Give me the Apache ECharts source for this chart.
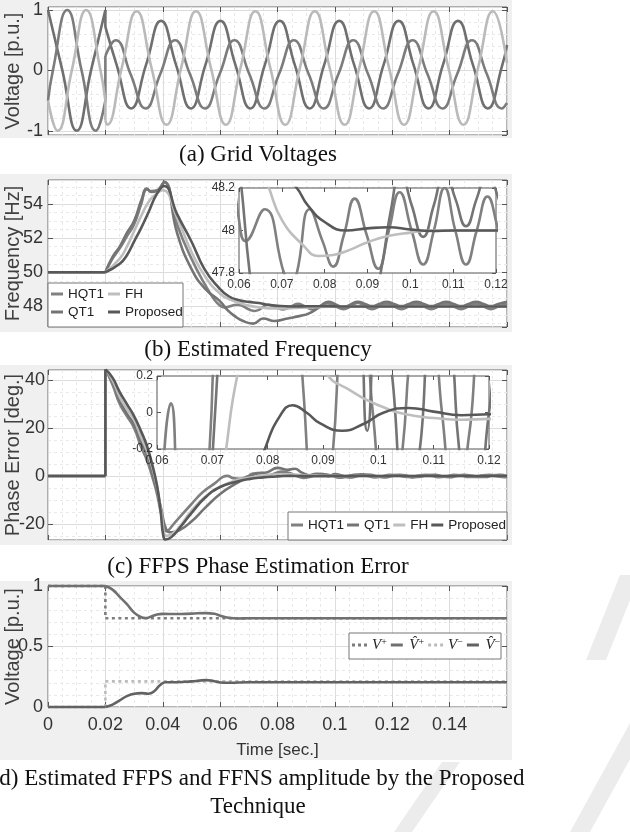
<!DOCTYPE html>
<html><head><meta charset="utf-8">
<script src="https://cdn.jsdelivr.net/npm/echarts@6/dist/echarts.min.js"></script>
<style>html,body{margin:0;padding:0;background:#fff}#c{width:630px;height:832px}</style>
</head><body><div id="c"></div>
<script>
// ---------------- data ----------------
const EVENT_T = 0.02;
// (a) grid voltages [t, p.u.]
const phaseA = [[0,1],[0.005,0],[0.01,-1],[0.015,0],[0.02,1],[0.02,0.72],[0.0239,0.095],[0.029,-0.63],[0.0342,0.095],[0.0394,0.82],[0.0446,0.095],[0.0498,-0.63],[0.0549,0.095],[0.0601,0.82],[0.0653,0.095],[0.0705,-0.63],[0.0756,0.095],[0.0808,0.82],[0.086,0.095],[0.0912,-0.63],[0.0963,0.095],[0.1015,0.82],[0.1067,0.095],[0.1119,-0.63],[0.117,0.095],[0.1222,0.82],[0.1274,0.095],[0.1326,-0.63],[0.1377,0.095],[0.1429,0.82],[0.1481,0.095],[0.1533,-0.63],[0.1584,0.095],[0.16,0.42]];
const phaseB = [[0,-0.5],[0.0017,0],[0.0067,1],[0.0117,0],[0.0167,-1],[0.02,-0.5],[0.02,0.24],[0.0236,0.5],[0.0288,-0.065],[0.034,-0.63],[0.0391,-0.065],[0.0443,0.5],[0.0495,-0.065],[0.0547,-0.63],[0.0598,-0.065],[0.065,0.5],[0.0702,-0.065],[0.0754,-0.63],[0.0805,-0.065],[0.0857,0.5],[0.0909,-0.065],[0.0961,-0.63],[0.1012,-0.065],[0.1064,0.5],[0.1116,-0.065],[0.1168,-0.63],[0.1219,-0.065],[0.1271,0.5],[0.1323,-0.065],[0.1375,-0.63],[0.1426,-0.065],[0.1478,0.5],[0.153,-0.065],[0.1582,-0.63],[0.16,-0.54]];
const phaseC = [[0,-0.5],[0.0033,-1],[0.0083,0],[0.0133,1],[0.0183,0],[0.02,-0.5],[0.02,-0.83],[0.0206,-0.9],[0.0257,0.04],[0.0309,0.98],[0.0361,0.04],[0.0413,-0.9],[0.0464,0.04],[0.0516,0.98],[0.0568,0.04],[0.062,-0.9],[0.0671,0.04],[0.0723,0.98],[0.0775,0.04],[0.0827,-0.9],[0.0878,0.04],[0.093,0.98],[0.0982,0.04],[0.1034,-0.9],[0.1085,0.04],[0.1137,0.98],[0.1189,0.04],[0.1241,-0.9],[0.1292,0.04],[0.1344,0.98],[0.1396,0.04],[0.1448,-0.9],[0.1499,0.04],[0.1551,0.98],[0.16,0.12]];

// (b) estimated frequency [t, Hz]
const freqHQT1 = [[0,50],[0.02,50],[0.0225,50.8],[0.025,51.4],[0.0275,52.1],[0.03,52.8],[0.0325,54.0],[0.0345,54.85],[0.036,54.75],[0.038,54.8],[0.0405,55.25],[0.045,52.8],[0.05,50.8],[0.055,49.2],[0.058,48.4],[0.06,48.05],[0.0615,47.95],[0.066,48.1],[0.0705,47.8],[0.072,47.74],[0.0735,47.8],[0.0765,48.1],[0.0795,47.95],[0.082,47.83],[0.0845,47.98],[0.087,48.15],[0.0898,47.98],[0.0925,47.82],[0.095,48.0],[0.0975,48.18],[0.1003,48.0],[0.103,47.84],[0.1055,48.0],[0.108,48.2],[0.1105,48.0],[0.113,47.84],[0.1155,48.0],[0.118,48.16],[0.1206,48.0],[0.1232,47.84],[0.1258,48.0],[0.1284,48.16],[0.131,48.0],[0.1336,47.84],[0.1362,48.0],[0.1388,48.16],[0.1414,48.0],[0.144,47.84],[0.1466,48.0],[0.1492,48.16],[0.1518,48.0],[0.1544,47.84],[0.157,48.0],[0.16,48.15]];
const freqQT1 = [[0,50],[0.02,50],[0.0225,50.9],[0.025,51.5],[0.0275,52.3],[0.03,53.0],[0.0325,54.2],[0.0345,54.9],[0.036,54.7],[0.038,54.75],[0.0405,55.3],[0.045,52.3],[0.05,50.2],[0.055,49.0],[0.06,48.3],[0.0625,47.8],[0.065,47.45],[0.068,47.15],[0.0715,47.0],[0.075,47.3],[0.079,47.15],[0.0835,47.3],[0.088,47.45],[0.091,47.6],[0.0935,47.85],[0.0955,48.1],[0.0977,48.28],[0.1003,48.12],[0.103,47.97],[0.1055,48.12],[0.108,48.28],[0.1105,48.15],[0.113,48.02],[0.1155,48.15],[0.118,48.28],[0.1206,48.15],[0.1232,48.02],[0.1258,48.15],[0.1284,48.28],[0.131,48.15],[0.1336,48.02],[0.1362,48.15],[0.1388,48.28],[0.1414,48.15],[0.144,48.02],[0.1466,48.15],[0.1492,48.28],[0.1518,48.15],[0.1544,48.02],[0.157,48.15],[0.16,48.27]];
const freqFH = [[0,50],[0.02,50],[0.025,50.8],[0.0275,51.5],[0.03,52.4],[0.0325,53.3],[0.035,54.1],[0.0375,54.55],[0.04,54.8],[0.045,53.2],[0.05,51.2],[0.055,49.7],[0.06,48.75],[0.0635,48.4],[0.067,48.2],[0.07,48.05],[0.075,47.93],[0.0785,47.88],[0.082,47.885],[0.086,47.91],[0.09,47.945],[0.095,47.975],[0.1,47.99],[0.105,48.0],[0.12,48.0],[0.16,48.0]];
const freqProp = [[0,50],[0.02,50],[0.025,50.5],[0.0275,51.0],[0.03,51.8],[0.0325,52.6],[0.035,53.5],[0.038,54.6],[0.0405,55.05],[0.045,53.4],[0.05,51.8],[0.0545,50.2],[0.059,49.2],[0.063,48.6],[0.067,48.35],[0.07,48.27],[0.0735,48.2],[0.076,48.12],[0.08,48.04],[0.085,48.0],[0.09,48.01],[0.095,48.015],[0.1,48.005],[0.105,47.998],[0.11,48.0],[0.12,48.0],[0.16,48.0]];

// (c) FFPS phase estimation error [t, deg]
const errHQT1 = [[0,0],[0.02,0],[0.02,44.5],[0.0225,38],[0.025,30],[0.0275,25],[0.03,20],[0.0325,12],[0.0345,6.5],[0.0365,-1],[0.038,-7.5],[0.0395,-16],[0.0413,-23],[0.0445,-19],[0.0498,-12],[0.054,-6.7],[0.058,-3.2],[0.061,-0.4],[0.0625,0.05],[0.0645,-0.9],[0.067,-1.2],[0.0695,-0.2],[0.0715,1.0],[0.0745,1.3],[0.077,0.3],[0.079,1.0],[0.0815,1.8],[0.084,1.3],[0.0865,0.1],[0.089,-0.8],[0.0915,-0.3],[0.094,0.6],[0.0965,0.7],[0.099,0.0],[0.1015,-0.7],[0.104,-0.3],[0.1065,0.5],[0.109,0.7],[0.1115,0.0],[0.114,-0.6],[0.1165,-0.1],[0.119,0.5],[0.1215,0.4],[0.124,-0.3],[0.1265,-0.5],[0.129,0.2],[0.1315,0.5],[0.134,0.0],[0.1365,-0.5],[0.139,-0.1],[0.1415,0.5],[0.144,0.3],[0.1465,-0.4],[0.149,-0.4],[0.1515,0.3],[0.154,0.5],[0.1565,-0.1],[0.159,-0.5],[0.16,-0.3]];
const errQT1 = [[0,0],[0.02,0],[0.02,44.5],[0.0225,39.5],[0.025,31.5],[0.0275,26],[0.03,21.5],[0.0325,14],[0.0345,9],[0.0365,1],[0.038,-6],[0.0395,-14],[0.0413,-22.5],[0.043,-23.5],[0.046,-22.5],[0.05,-19],[0.055,-13],[0.06,-7.5],[0.065,-3.5],[0.0685,-1.2],[0.0705,0],[0.073,1.0],[0.0765,1.6],[0.08,3.4],[0.0835,2.6],[0.086,3.0],[0.0885,1.4],[0.091,0.3],[0.0935,0.9],[0.096,0.8],[0.098,-0.1],[0.1,0.8],[0.1025,0.2],[0.105,-0.6],[0.1075,-0.2],[0.11,0.6],[0.1125,0.5],[0.115,-0.3],[0.1175,-0.6],[0.12,0.0],[0.1225,0.5],[0.125,0.2],[0.1275,-0.5],[0.13,-0.3],[0.1325,0.4],[0.135,0.5],[0.1375,-0.2],[0.14,-0.5],[0.1425,0.0],[0.145,0.5],[0.1475,0.2],[0.15,-0.4],[0.1525,-0.4],[0.155,0.3],[0.1575,0.5],[0.16,0.0]];
const errFH = [[0,0],[0.02,0],[0.02,44.5],[0.0225,40],[0.025,33],[0.0275,28],[0.03,23.5],[0.0325,16],[0.0345,10.5],[0.0365,3],[0.038,-4.5],[0.0395,-15],[0.0413,-25],[0.0435,-24],[0.046,-21],[0.05,-14.5],[0.055,-8.5],[0.06,-4.5],[0.065,-2],[0.07,-0.8],[0.0725,-0.2],[0.0745,0.2],[0.078,0.6],[0.082,0.75],[0.086,0.55],[0.0905,0.22],[0.095,0.12],[0.1,0.04],[0.105,-0.01],[0.11,-0.03],[0.115,-0.04],[0.12,-0.035],[0.16,-0.03]];
const errProp = [[0,0],[0.02,0],[0.02,44.5],[0.0225,41],[0.025,35],[0.0275,30],[0.03,25],[0.0325,18.5],[0.0345,12.5],[0.0365,4],[0.038,-4],[0.0392,-14],[0.0402,-25],[0.041,-26.5],[0.043,-25.5],[0.046,-21.5],[0.05,-15.5],[0.055,-8.8],[0.06,-4.6],[0.065,-2.6],[0.07,-1.3],[0.075,-0.6],[0.0795,-0.2],[0.0822,-0.02],[0.0845,0.04],[0.087,0.0],[0.0895,-0.06],[0.0935,-0.1],[0.0975,-0.06],[0.101,0.0],[0.1055,0.025],[0.11,0.005],[0.115,-0.015],[0.12,-0.01],[0.16,0.0]];

// (d) sequence amplitudes [t, p.u.]
const ampPosRef = [[0,1],[0.02,1],[0.02,0.733],[0.16,0.733]];
const ampPosEst = [[0,1],[0.02,1],[0.0225,0.97],[0.025,0.91],[0.0275,0.85],[0.03,0.78],[0.0325,0.742],[0.034,0.735],[0.036,0.748],[0.038,0.765],[0.04,0.77],[0.045,0.768],[0.05,0.772],[0.055,0.776],[0.058,0.77],[0.06,0.755],[0.063,0.738],[0.066,0.732],[0.07,0.733],[0.08,0.734],[0.16,0.733]];
const ampNegRef = [[0,0],[0.02,0],[0.02,0.212],[0.16,0.212]];
const ampNegEst = [[0,0],[0.02,0],[0.0225,0.02],[0.025,0.055],[0.0275,0.09],[0.03,0.11],[0.0325,0.115],[0.035,0.11],[0.037,0.13],[0.039,0.18],[0.041,0.205],[0.045,0.205],[0.05,0.212],[0.055,0.222],[0.057,0.218],[0.06,0.203],[0.063,0.2],[0.07,0.205],[0.08,0.205],[0.16,0.205]];

const methodNames = ['HQT1', 'QT1', 'FH', 'Proposed'];
const ampNames = ['Vp', 'Vph', 'Vn', 'Vnh'];
const captions = ['(a) Grid Voltages', '(b) Estimated Frequency', '(c) FFPS Phase Estimation Error',
                  '(d) Estimated FFPS and FFNS amplitude by the Proposed', 'Technique'];
const yNames = ['Voltage [p.u.]', 'Frequency [Hz]', 'Phase Error [deg.]', 'Voltage [p.u.]'];
const xName = 'Time [sec.]';

// ---------------- fonts ----------------
const SANS = "'Liberation Sans', Arial, sans-serif";
const SERIF = "'Liberation Serif', 'Times New Roman', serif";
const TXT = '#333';

// ---------------- builders ----------------
const grids = [], xAxes = [], yAxes = [], series = [];

function addPanel(rect, o) {
  const gi = grids.length;
  grids.push(Object.assign({show: true, backgroundColor: '#fff', borderColor: o.inset ? '#555' : '#6a6a6a',
    borderWidth: 1, containLabel: false, outerBoundsMode: 'none', z: o.inset ? 3 : 0}, rect));
  const tick = {show: true, inside: true, length: o.inset ? 4 : 5, lineStyle: {color: '#555', width: 1}};
  const split = {show: !o.inset, lineStyle: {color: '#dcdcdc', width: 1}};
  const minor = {show: !o.inset, lineStyle: {color: '#e9e9e9', width: 1, type: [3, 3]}};
  const lab = {fontFamily: SANS, fontSize: o.fs, color: TXT};
  const z = o.inset ? 4 : 0;
  const noLine = {show: false, onZero: false};
  const xi = xAxes.length;
  const xb = {type: 'value', gridIndex: gi, position: 'bottom', min: o.xmin, max: o.xmax, interval: o.xint,
    axisLine: noLine, axisTick: tick, splitLine: split,
    minorTick: {show: false, splitNumber: 4}, minorSplitLine: minor,
    axisLabel: Object.assign({show: !!o.xLabels, margin: o.xMargin || 7, showMinLabel: true, showMaxLabel: !!o.xMaxLab}, lab),
    z: z};
  if (o.xName) Object.assign(xb, {name: o.xName, nameLocation: 'middle', nameGap: o.xNameGap, nameMoveOverlap: false,
    nameTextStyle: {fontFamily: SANS, fontSize: 17, color: TXT}});
  xAxes.push(xb);
  xAxes.push({type: 'value', gridIndex: gi, position: 'top', min: o.xmin, max: o.xmax, interval: o.xint,
    axisLine: noLine, axisTick: tick, splitLine: {show: false}, axisLabel: {show: false}, z: z});
  const yi = yAxes.length;
  const yl = {type: 'value', gridIndex: gi, position: 'left', min: o.ymin, max: o.ymax,
    axisLine: noLine, axisTick: tick, splitLine: split,
    minorTick: {show: false, splitNumber: o.yMinor || 4}, minorSplitLine: minor,
    axisLabel: Object.assign({margin: o.yMargin || 5, showMinLabel: !!o.yMinLab, showMaxLabel: !!o.yMaxLab}, lab),
    z: z};
  if (o.yint !== undefined) yl.interval = o.yint; else yl.splitNumber = o.ysplit;
  if (o.yName) Object.assign(yl, {name: o.yName, nameLocation: 'middle', nameRotate: 90, nameGap: o.yNameGap,
    nameMoveOverlap: false, nameTextStyle: {fontFamily: SANS, fontSize: 20, color: '#404040'}});
  yAxes.push(yl);
  const yr = Object.assign({}, yl, {position: 'right', splitLine: {show: false}, minorSplitLine: {show: false},
    axisLabel: {show: false}, name: ''});
  yAxes.push(yr);
  return {xi, yi};
}

// split a curve at the event instant: straight jumps, smooth pieces elsewhere
function pieces(arr) {
  const out = []; let cur = [arr[0]];
  for (let i = 1; i < arr.length; i++) {
    const p = arr[i], q = arr[i - 1];
    if (p[0] === q[0]) { out.push({pts: cur, smooth: true}); out.push({pts: [q, p], smooth: false}); cur = [p]; }
    else {
      cur.push(p);
      if (p[0] === EVENT_T && arr[i + 1] && arr[i + 1][0] !== EVENT_T) { out.push({pts: cur, smooth: true}); cur = [p]; }
    }
  }
  out.push({pts: cur, smooth: true});
  return out.filter(pc => pc.pts.length > 1);
}

function addLine(arr, name, color, ax, opt) {
  opt = opt || {};
  pieces(arr).forEach(pc => {
    series.push({type: 'line', name: name, data: pc.pts, xAxisIndex: ax.xi, yAxisIndex: ax.yi,
      showSymbol: false, symbol: 'none', smooth: (pc.smooth && !opt.straight) ? 0.5 : false,
      lineStyle: {color: color, width: opt.width || 2.6, type: opt.type || 'solid'},
      itemStyle: {color: color}, clip: opt.clip !== false, z: opt.z || 2, silent: true, animation: false});
  });
}

// ---------------- panels ----------------
const pa = addPanel({left: 48, top: 7, width: 459, height: 128},
  {xmin: 0, xmax: 0.16, xint: 0.02, ymin: -1.07, ymax: 1.05, ysplit: 2, yMinor: 5, fs: 18,
   yName: yNames[0], yNameGap: 25});
const pb = addPanel({left: 48, top: 180, width: 459, height: 147},
  {xmin: 0, xmax: 0.16, xint: 0.02, ymin: 46.8, ymax: 55.4, ysplit: 4, yMinor: 4, fs: 18,
   yName: yNames[1], yNameGap: 25});
const pc = addPanel({left: 48, top: 370, width: 459, height: 170},
  {xmin: 0, xmax: 0.16, xint: 0.02, ymin: -26.7, ymax: 44.2, ysplit: 4, yMinor: 4, fs: 18, yMargin: 3,
   yName: yNames[2], yNameGap: 25});
const pd = addPanel({left: 48, top: 586, width: 459, height: 121},
  {xmin: 0, xmax: 0.16, xint: 0.02, ymin: 0, ymax: 1, yint: 0.5, yMinor: 5, fs: 18,
   yMinLab: true, yMaxLab: true, xLabels: true, xMargin: 9, xName: xName, xNameGap: 35,
   yName: yNames[3], yNameGap: 25});
const ib = addPanel({left: 239, top: 188, width: 257, height: 85},
  {inset: true, xmin: 0.06, xmax: 0.12, xint: 0.01, ymin: 47.8, ymax: 48.2, yint: 0.2, fs: 12,
   xLabels: true, xMaxLab: true, xMargin: 6, yMinLab: true, yMaxLab: true, yMargin: 4});
const ic = addPanel({left: 157, top: 376, width: 332, height: 73},
  {inset: true, xmin: 0.06, xmax: 0.12, xint: 0.01, ymin: -0.2, ymax: 0.2, yint: 0.2, fs: 12,
   xLabels: true, xMaxLab: true, xMargin: 6, yMinLab: true, yMaxLab: true, yMargin: 4});

const C = {HQT1: '#808080', QT1: '#747474', FH: '#bebebe', Proposed: '#585858'};

addLine(phaseA, 'A', '#6f6f6f', pa);
addLine(phaseB, 'B', '#7c7c7c', pa);
addLine(phaseC, 'C', '#bababa', pa);

const freq = [freqHQT1, freqQT1, freqFH, freqProp];
const err = [errHQT1, errQT1, errFH, errProp];
methodNames.forEach((n, k) => {
  addLine(freq[k], n, C[n], pb);
  addLine(err[k], n, C[n], pc);
  addLine(freq[k], n, C[n], ib, {z: 5});
  addLine(err[k], n, C[n], ic, {z: 5});
});

addLine(ampPosRef, ampNames[0], '#7d7d7d', pd, {type: [3, 3.5], straight: true, clip: false});
addLine(ampPosEst, ampNames[1], '#707070', pd, {clip: false});
addLine(ampNegRef, ampNames[2], '#bcbcbc', pd, {type: [3, 3.5], straight: true, clip: false});
addLine(ampNegEst, ampNames[3], '#626262', pd, {clip: false});

// ---------------- legends ----------------
const SOLID = 'path://M0,0H12V3H0Z';
const DOTS = 'path://M0,0H3V3H0Z M6,0H9V3H6Z M12,0H15V3H12Z';
const legTxt = {fontFamily: SANS, fontSize: 13.5, color: '#222'};
const legBase = {selectedMode: false, itemWidth: 12, itemHeight: 3, padding: 0, z: 10, textStyle: legTxt};
const ampLabel = {Vp: '{i|V}{s|+}', Vph: '{i|V\u0302}{s|+}', Vn: '{i|V}{s|\u2212}', Vnh: '{i|V\u0302}{s|\u2212}'};
const withIcon = (names, icons) => names.map((n, k) => ({name: n, icon: icons[k]}));
const legends = [
  Object.assign({}, legBase, {data: withIcon(['HQT1', 'QT1'], [SOLID, SOLID]), orient: 'vertical', left: 51, top: 287, itemGap: 4}),
  Object.assign({}, legBase, {data: withIcon(['FH', 'Proposed'], [SOLID, SOLID]), orient: 'vertical', left: 108, top: 287, itemGap: 4}),
  Object.assign({}, legBase, {data: withIcon(methodNames, [SOLID, SOLID, SOLID, SOLID]), orient: 'horizontal', left: 291, top: 518, itemGap: 3}),
  Object.assign({}, legBase, {data: withIcon(ampNames, [DOTS, SOLID, DOTS, SOLID]), orient: 'horizontal', left: 352, top: 637, itemGap: 4, itemWidth: 15,
    formatter: n => ampLabel[n],
    textStyle: {rich: {
      i: {fontFamily: SERIF, fontStyle: 'italic', fontSize: 15, color: '#222'},
      s: {fontFamily: SERIF, fontSize: 10, color: '#222', verticalAlign: 'top', padding: [0, 0, 6, 0]}}}})
];

// ---------------- decorations ----------------
const WM = '#ececec';
const graphics = [
  {type: 'rect', shape: {x: 0, y: 0, width: 512, height: 138}, style: {fill: '#f0f0f0'}, z: -10},
  {type: 'rect', shape: {x: 0, y: 174, width: 512, height: 158}, style: {fill: '#f0f0f0'}, z: -10},
  {type: 'rect', shape: {x: 0, y: 365, width: 512, height: 180}, style: {fill: '#f0f0f0'}, z: -10},
  {type: 'rect', shape: {x: 0, y: 581, width: 512, height: 179}, style: {fill: '#f0f0f0'}, z: -10},
  {type: 'polygon', shape: {points: [[620, 575], [640, 575], [606, 660], [586, 660]]}, style: {fill: WM}, z: -11},
  {type: 'polygon', shape: {points: [[636, 712], [656, 712], [590, 832], [570, 832]]}, style: {fill: WM}, z: -11},
  {type: 'polygon', shape: {points: [[442, 762], [460, 762], [412, 832], [394, 832]]}, style: {fill: WM}, z: -11},
  {type: 'rect', shape: {x: 48, y: 283, width: 135, height: 44}, style: {fill: '#fff', stroke: '#777', lineWidth: 1}, z: 3},
  {type: 'rect', shape: {x: 288, y: 512, width: 219, height: 28}, style: {fill: '#fff', stroke: '#777', lineWidth: 1}, z: 3},
  {type: 'rect', shape: {x: 349, y: 633, width: 152, height: 26}, style: {fill: '#fff', stroke: '#777', lineWidth: 1}, z: 3}
];
const capY = [155, 350, 567, 779, 807];
captions.forEach((t, k) => graphics.push({type: 'text', x: 258, y: capY[k], z: 5,
  style: {text: t, font: '23px ' + SERIF, fill: '#111', align: 'center', verticalAlign: 'middle'}}));

const chart = echarts.init(document.getElementById('c'), null, {renderer: 'canvas'});
chart.setOption({
  animation: false,
  backgroundColor: '#fff',
  grid: grids, xAxis: xAxes, yAxis: yAxes, series: series,
  legend: legends, graphic: graphics
});
</script></body></html>
